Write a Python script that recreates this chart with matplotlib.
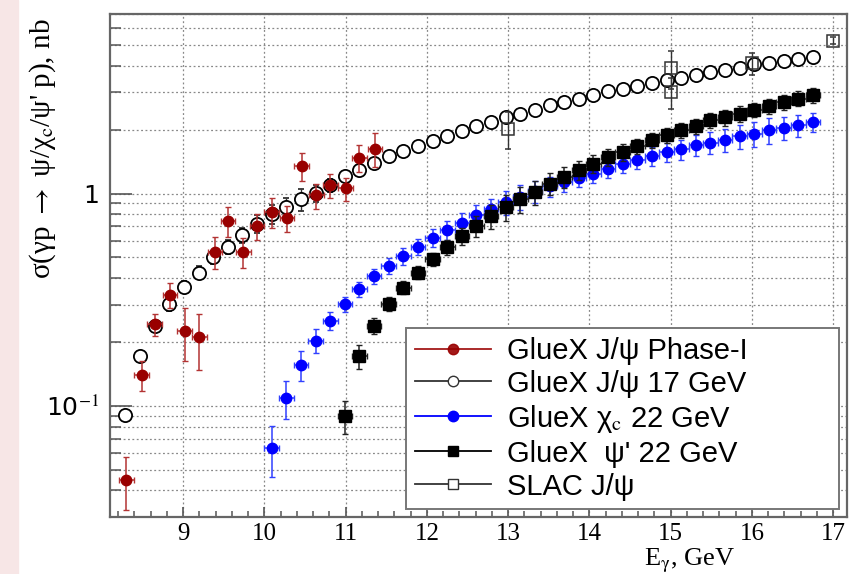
import numpy as np
import matplotlib
matplotlib.use("Agg")
import matplotlib.pyplot as plt
from matplotlib.lines import Line2D
from matplotlib.patches import Rectangle
from matplotlib.ticker import FixedLocator, NullFormatter

plt.rcParams['mathtext.fontset'] = 'stix'

# GlueX J/psi Phase-I measurement
e_phase1 = [8.30, 8.49, 8.65, 8.84, 9.02, 9.20, 9.39, 9.55, 9.74, 9.91,
            10.09, 10.28, 10.46, 10.64, 10.81, 11.00, 11.17, 11.36]
xs_phase1 = [0.045, 0.140, 0.242, 0.333, 0.225, 0.210, 0.531, 0.741, 0.531, 0.702,
             0.819, 0.768, 1.344, 0.980, 1.094, 1.056, 1.476, 1.628]
err_phase1 = [0.0125, 0.022, 0.028, 0.045, 0.063, 0.062, 0.09, 0.12, 0.087, 0.10,
              0.13, 0.11, 0.20, 0.13, 0.14, 0.13, 0.21, 0.30]

# GlueX J/psi projection, 17 GeV beam
e_jpsi17 = [8.29, 8.47, 8.65, 8.83, 9.01, 9.19, 9.37, 9.55, 9.73, 9.91,
            10.09, 10.27, 10.45, 10.63, 10.81, 10.99, 11.17, 11.35, 11.53, 11.71,
            11.89, 12.07, 12.25, 12.43, 12.61, 12.79, 12.97, 13.15, 13.33, 13.51,
            13.69, 13.87, 14.05, 14.23, 14.41, 14.59, 14.77, 14.95, 15.13, 15.31,
            15.49, 15.67, 15.85, 16.03, 16.21, 16.39, 16.57, 16.75]
xs_jpsi17 = [0.091, 0.172, 0.238, 0.301, 0.364, 0.424, 0.500, 0.561, 0.637, 0.720,
             0.800, 0.865, 0.940, 1.007, 1.094, 1.206, 1.297, 1.393, 1.497, 1.586,
             1.674, 1.762, 1.859, 1.969, 2.070, 2.170, 2.290, 2.380, 2.480, 2.600,
             2.700, 2.800, 2.900, 3.040, 3.120, 3.190, 3.310, 3.440, 3.510, 3.600,
             3.730, 3.830, 3.910, 4.050, 4.110, 4.200, 4.280, 4.390]
err_jpsi17 = [0.004, 0.008, 0.012, 0.02, 0.025, 0.03, 0.035, 0.04, 0.05, 0.07,
              0.08, 0.09, 0.11, 0.09, 0.08, 0.07, 0.06, 0.05, 0.05, 0.05,
              0.05, 0.05, 0.05, 0.05, 0.06, 0.06, 0.06, 0.06, 0.06, 0.06,
              0.07, 0.07, 0.07, 0.07, 0.07, 0.08, 0.08, 0.08, 0.08, 0.08,
              0.09, 0.09, 0.09, 0.09, 0.10, 0.10, 0.10, 0.10]

# GlueX chi_c projection, 22 GeV beam
e_chic = [10.09, 10.27, 10.45, 10.63, 10.81, 10.99, 11.17, 11.35, 11.53, 11.71,
          11.89, 12.07, 12.25, 12.43, 12.61, 12.79, 12.97, 13.15, 13.33, 13.51,
          13.69, 13.87, 14.05, 14.23, 14.41, 14.59, 14.77, 14.95, 15.13, 15.31,
          15.49, 15.67, 15.85, 16.03, 16.21, 16.39, 16.57, 16.75]
xs_chic = [0.0633, 0.109, 0.156, 0.203, 0.252, 0.302, 0.354, 0.408, 0.457, 0.507,
           0.561, 0.620, 0.675, 0.730, 0.790, 0.847, 0.908, 0.964, 1.025, 1.082,
           1.134, 1.189, 1.242, 1.310, 1.373, 1.445, 1.503, 1.560, 1.615, 1.687,
           1.738, 1.795, 1.866, 1.915, 1.985, 2.040, 2.095, 2.170]
err_chic = [0.017, 0.022, 0.025, 0.026, 0.025, 0.025, 0.03, 0.035, 0.04, 0.045,
            0.05, 0.06, 0.07, 0.08, 0.09, 0.10, 0.12, 0.13, 0.12, 0.12,
            0.12, 0.12, 0.12, 0.13, 0.13, 0.14, 0.15, 0.16, 0.17, 0.19,
            0.20, 0.22, 0.24, 0.26, 0.27, 0.25, 0.24, 0.22]

# GlueX psi' projection, 22 GeV beam
e_psi2s = [10.99, 11.17, 11.35, 11.53, 11.71, 11.89, 12.07, 12.25, 12.43, 12.61,
           12.79, 12.97, 13.15, 13.33, 13.51, 13.69, 13.87, 14.05, 14.23, 14.41,
           14.59, 14.77, 14.95, 15.13, 15.31, 15.49, 15.67, 15.85, 16.03, 16.21,
           16.39, 16.57, 16.75]
xs_psi2s = [0.090, 0.172, 0.238, 0.302, 0.361, 0.424, 0.490, 0.557, 0.630, 0.702,
            0.782, 0.865, 0.940, 1.017, 1.114, 1.197, 1.287, 1.384, 1.486, 1.569,
            1.668, 1.780, 1.880, 1.985, 2.070, 2.210, 2.280, 2.380, 2.480, 2.570,
            2.700, 2.800, 2.900]
err_psi2s = [0.016, 0.022, 0.02, 0.022, 0.025, 0.03, 0.035, 0.045, 0.06, 0.08,
             0.10, 0.12, 0.13, 0.13, 0.13, 0.13, 0.13, 0.13, 0.14, 0.14,
             0.14, 0.15, 0.15, 0.16, 0.17, 0.18, 0.19, 0.20, 0.20, 0.21,
             0.22, 0.23, 0.24]

# SLAC J/psi data
e_slac = [13.0, 15.0, 15.0, 16.0, 17.0]
xs_slac = [2.02, 3.89, 3.00, 4.11, 5.25]
err_slac = [0.40, 0.80, 0.50, 0.50, 0.20]

labels = ["GlueX J/ψ Phase-I", "GlueX J/ψ 17 GeV", "GlueX χ$_\\mathrm{c}$ 22 GeV",
          "GlueX  ψ' 22 GeV", "SLAC J/ψ"]

c_red = '#990000'
c_blue = '#0000ff'

fig = plt.figure(figsize=(8.56, 5.74), dpi=100)
fig.patches.append(Rectangle((0, 0), 18 / 856, 1, transform=fig.transFigure,
                             color='#f7e6e6', zorder=-10))
ax = fig.add_axes([110 / 856, 1 - 517 / 574, 737 / 856, 503 / 574])

ax.errorbar(e_jpsi17, xs_jpsi17, yerr=err_jpsi17, fmt='o', ms=9.5, mfc='white',
            mec='black', mew=1.3, ecolor='#333333', elinewidth=1, capsize=2, zorder=3)
ax.errorbar(e_chic, xs_chic, yerr=err_chic, xerr=0.09, fmt='o', ms=7.5, color=c_blue,
            ecolor='#3040ff', elinewidth=1.1, capsize=2.5, zorder=4)
ax.errorbar(e_psi2s, xs_psi2s, yerr=err_psi2s, xerr=0.09, fmt='s', ms=8, color='black',
            ecolor='#222222', elinewidth=1.1, capsize=2.5, zorder=5)
ax.errorbar(e_phase1, xs_phase1, yerr=err_phase1, xerr=0.09, fmt='o', ms=7.5, color=c_red,
            ecolor='#b33333', elinewidth=1.1, capsize=2.5, zorder=6)
ax.errorbar(e_slac, xs_slac, yerr=err_slac, fmt='s', ms=8, mfc='none', mec='#333333',
            mew=1.1, ecolor='#333333', elinewidth=1, capsize=2, zorder=7)

ax.set_xlim(8.1, 17.17)
ax.set_yscale('log')
ax.set_ylim(0.03, 7.0)

serif = ['Liberation Serif', 'DejaVu Serif']
ax.set_xticks(range(9, 18))
ax.set_xticklabels([str(v) for v in range(9, 18)], family=serif, fontsize=18)
ax.xaxis.set_minor_locator(FixedLocator(np.arange(8.2, 17.2, 0.2)))
ax.set_yticks([0.1, 1])
ax.set_yticklabels(['10$^{-1}$', '1'], fontsize=18)
ax.yaxis.set_minor_locator(FixedLocator(
    [k * 10.0 ** d for d in (-2, -1, 0) for k in range(2, 10)]))
ax.yaxis.set_minor_formatter(NullFormatter())

ax.tick_params(axis='x', which='major', direction='in', length=7, width=1.2,
               color='#555555', pad=4)
ax.tick_params(axis='x', which='minor', direction='in', length=4, width=1.1,
               color='#555555')
ax.tick_params(axis='y', which='major', direction='in', length=16, width=1.2,
               color='#555555', pad=8)
ax.tick_params(axis='y', which='minor', direction='in', length=8, width=1.1,
               color='#555555')

ax.grid(True, axis='x', which='major', ls=(0, (1.5, 2)), color='#888888', lw=0.9)
ax.grid(True, axis='y', which='both', ls=(0, (1.5, 2)), color='#888888', lw=0.9)
ax.set_axisbelow(True)

for sp in ax.spines.values():
    sp.set_color('#666666')
    sp.set_linewidth(1.6)

fig.text(735 / 856, 1 - 565 / 574, 'E$_{\\mathrm{γ}}$, GeV', ha='right', va='baseline',
         family=serif, fontsize=19)
fig.text(43 / 856, 1 - 18 / 574,
         "σ(γp $\\rightarrow$ ψ/χ$_\\mathrm{c}$/ψ' p), nb", rotation=90,
         ha='center', va='top', family=serif, fontsize=21)

handles = [
    Line2D([], [], color=c_red, lw=1.3, marker='o', ms=7.5, alpha=0.9),
    Line2D([], [], color='#333333', lw=1.3, marker='o', ms=7.5, mfc='white'),
    Line2D([], [], color=c_blue, lw=1.3, marker='o', ms=7.5),
    Line2D([], [], color='black', lw=1.3, marker='s', ms=7),
    Line2D([], [], color='#333333', lw=1.3, marker='s', ms=7.5, mfc='white'),
]
leg = ax.legend(handles, labels, loc='upper left',
                bbox_to_anchor=(0.4016, 0.0278, 0.5875, 0.348), mode='expand',
                prop={'family': ['Liberation Sans', 'DejaVu Sans'], 'size': 21},
                handlelength=2.6, handletextpad=0.58, labelspacing=0.17,
                borderpad=0.3, borderaxespad=0, fancybox=False, framealpha=1,
                edgecolor='#777777')
leg.get_frame().set_linewidth(1.4)
leg.set_zorder(10)

fig.savefig('out.png', dpi=100)
